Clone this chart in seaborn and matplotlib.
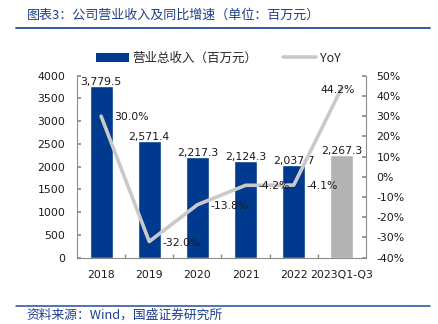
import numpy as np
import pandas as pd
import matplotlib
matplotlib.use("Agg")
import matplotlib.pyplot as plt
from matplotlib.patches import Patch
from matplotlib.lines import Line2D
import seaborn as sns

categories = ["2018", "2019", "2020", "2021", "2022", "2023Q1-Q3"]
revenue = [3779.5, 2571.4, 2217.3, 2124.3, 2037.7, 2267.3]
yoy = [30.0, -32.0, -13.8, -4.2, -4.1, 44.2]
bar_labels = ["3,779.5", "2,571.4", "2,217.3", "2,124.3", "2,037.7", "2,267.3"]
yoy_labels = ["30.0%", "-32.0%", "-13.8%", "-4.2%", "-4.1%", "44.2%"]
left_ticks = [0, 500, 1000, 1500, 2000, 2500, 3000, 3500, 4000]
right_ticks = [-40, -30, -20, -10, 0, 10, 20, 30, 40, 50]

title = "图表3：公司营业收入及同比增速（单位：百万元）"
source = "资料来源：Wind，国盛证券研究所"
legend_bar = "营业总收入（百万元）"
legend_line = "YoY"

BLUE = "#003A8F"
GRAY_BAR = "#B3B3B3"
LINE = "#C9C9C9"
SPINE = "#8C8C8C"
TITLE_C = "#1E3F8A"
TXT = "#1a1a1a"

sns.set_theme(style="white")
plt.rcParams["font.family"] = ["DejaVu Sans", "Noto Sans CJK SC"]
CJK = ["Noto Sans CJK SC", "DejaVu Sans"]

W, H = 439, 324
fig = plt.figure(figsize=(W / 100, H / 100), dpi=100)
ax = fig.add_axes([77 / W, 1 - 257.7 / H, (366 - 77) / W, (257.7 - 75.7) / H])

df = pd.DataFrame({"cat": categories, "rev": revenue})
colors = [BLUE] * 5 + [GRAY_BAR]
sns.barplot(data=df, x="cat", y="rev", hue="cat", palette=colors, legend=False,
            width=0.48, ax=ax, saturation=1)
ax.set_xlim(-0.5, len(categories) - 0.5)
ax.set_ylim(0, 4000)
ax.set_yticks(left_ticks)
ax.set_yticklabels([str(t) for t in left_ticks], fontsize=7.8, color=TXT)
ax.set_xlabel("")
ax.set_ylabel("")
ax.set_xticks(range(len(categories)))
ax.set_xticklabels(categories, fontsize=7.8, color=TXT)
ax.set_xticks(np.arange(0.5, len(categories) - 0.5, 1), minor=True)
ax.tick_params(axis="x", which="major", length=0, pad=9)
ax.tick_params(axis="x", which="minor", length=3, direction="in", color=SPINE, bottom=True)
ax.tick_params(axis="y", length=3, direction="in", color=SPINE, pad=8.5, left=True)
for s in ["top", "right"]:
    ax.spines[s].set_visible(False)
for s in ["left", "bottom"]:
    ax.spines[s].set_color(SPINE)
    ax.spines[s].set_linewidth(0.8)

for i, (v, lab) in enumerate(zip(revenue, bar_labels)):
    ax.annotate(lab, (i, v), xytext=(0, -1), textcoords="offset points",
                ha="center", va="bottom", fontsize=7.8, color=TXT)

ax2 = ax.twinx()
sns.lineplot(x=np.arange(len(categories)), y=yoy, ax=ax2, color=LINE, linewidth=2.6, sort=False)
ax2.set_ylim(-40, 50)
ax2.set_yticks(right_ticks)
ax2.set_yticklabels([f"{t}%" for t in right_ticks], fontsize=7.8, color=TXT)
ax2.tick_params(axis="y", length=3, direction="in", color=SPINE, pad=7.5, right=True)
ax2.set_ylabel("")
for s in ["top", "left", "bottom"]:
    ax2.spines[s].set_visible(False)
ax2.spines["right"].set_color(SPINE)
ax2.spines["right"].set_linewidth(0.8)
ax2.grid(False)
ax.grid(False)

for i, (v, lab) in enumerate(zip(yoy, yoy_labels)):
    if i == len(yoy) - 1:
        ax2.annotate(lab, (i, v), xytext=(-3, -1.5), textcoords="offset points",
                     ha="center", va="center", fontsize=7.8, color=TXT)
    else:
        ax2.annotate(lab, (i, v), xytext=(9.5, -0.8), textcoords="offset points",
                     ha="left", va="center", fontsize=7.8, color=TXT)

handles = [Patch(facecolor=BLUE, edgecolor="none"),
           Line2D([0], [0], color=LINE, linewidth=2.6)]
fig.legend(handles, [legend_bar, legend_line], loc="center",
           bbox_to_anchor=(218 / W, 1 - 58 / H), ncol=2, frameon=False,
           handlelength=2.7, handleheight=0.75, columnspacing=2.0,
           handletextpad=0.25, prop={"family": CJK, "size": 9})

fig.text(27 / W, 1 - 15 / H, title, fontsize=9.4, color=TITLE_C, style="italic",
         ha="left", va="center", family=CJK)
fig.add_artist(Line2D([16 / W, 430 / W], [1 - 28 / H, 1 - 28 / H], color="#1F4E9C", linewidth=1.3))
fig.add_artist(Line2D([16 / W, 430 / W], [1 - 306 / H, 1 - 306 / H], color="#1F4E9C", linewidth=1.1))
fig.text(26 / W, 1 - 315.5 / H, source, fontsize=9.2, color=TITLE_C, style="italic",
         ha="left", va="center", family=CJK)

fig.savefig("out.png", dpi=100)
